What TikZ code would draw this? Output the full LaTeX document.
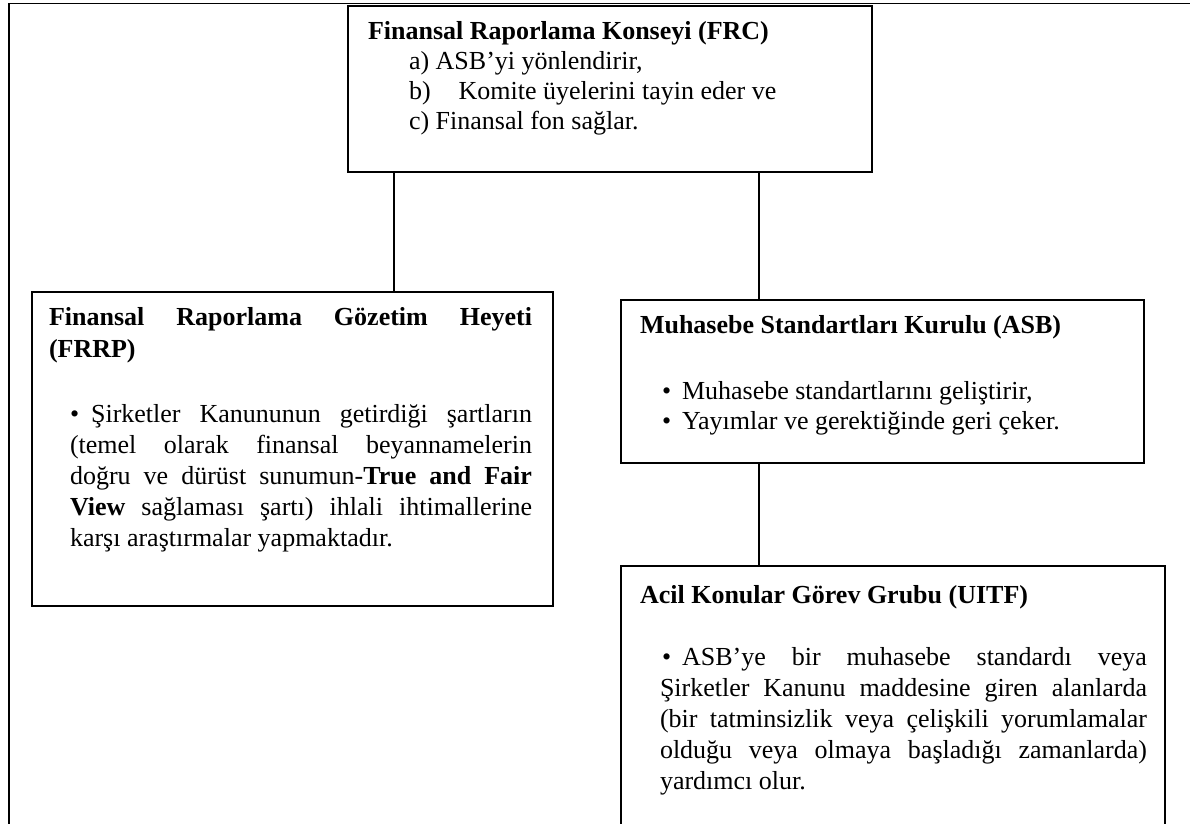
\documentclass[tikz,border=0pt]{standalone}
\usepackage{fontspec}
\setmainfont{Liberation Serif}
\tikzset{
  box/.style={draw=black, line width=2.2pt, inner sep=0pt, outer sep=0pt, anchor=north west},
  conn/.style={draw=black, line width=1.7pt},
  framel/.style={draw=black, line width=1.7pt},
  txt/.style={anchor=base west, inner sep=0pt, outer sep=0pt, align=left},
}
\newcommand{\bfont}[1]{\fontsize{26}{#1}\selectfont}
\begin{document}
\begin{tikzpicture}[x=1pt,y=-1pt]
\useasboundingbox (0,0) rectangle (1190,823);
\clip (0,0) rectangle (1190,823);
\fill[white] (0,0) rectangle (1190,823);
% outer frame
\coordinate (ftr) at (1195,3.5);
\coordinate (ftl) at (9,3.5);
\coordinate (fbl) at (9,830);
\draw[framel] (ftr) -- (ftl) -- (fbl);
% boxes
\node[box, minimum width=524pt, minimum height=166pt] (frc) at (348,6) {};
\node[box, minimum width=521pt, minimum height=314pt] (frrp) at (32,292) {};
\node[box, minimum width=523pt, minimum height=163pt] (asb) at (621,300) {};
\node[box, minimum width=544pt, minimum height=290pt] (uitf) at (621,566) {};
% connectors
\coordinate (cx1) at (394,0);
\coordinate (cx2) at (759,0);
\draw[conn] (cx1 |- frc.south) -- (cx1 |- frrp.north);
\draw[conn] (cx2 |- frc.south) -- (cx2 |- asb.north);
\draw[conn] (cx2 |- asb.south) -- (cx2 |- uitf.north);
% FRC text
\node[txt] (frctitle) at (368,39) {\bfont{30}\bfseries Finansal Raporlama Konseyi (FRC)};
\node[txt] (frcitems) at (409,69) {\parbox[t]{440pt}{\bfont{30}a) ASB’yi yönlendirir,\\
b)\hspace{28pt}Komite üyelerini tayin eder ve\\
c) Finansal fon sağlar.}};
% FRRP text
\node[txt] (frrptitle) at (49,325) {\parbox[t]{483pt}{\bfont{32}\bfseries\makebox[483pt][s]{Finansal Raporlama Gözetim Heyeti}\\
(FRRP)}};
\node[txt] (frrppara) at (70,422) {\parbox[t]{462pt}{\bfont{31}\makebox[462pt][s]{•\hspace{12pt}Şirketler Kanununun getirdiği şartların}\\
\makebox[462pt][s]{(temel olarak finansal beyannamelerin}\\
\makebox[462pt][s]{doğru ve dürüst sunumun-\textbf{True and Fair}}\\
\makebox[462pt][s]{\textbf{View} sağlaması şartı) ihlali ihtimallerine}\\
karşı araştırmalar yapmaktadır.}};
% ASB text
\node[txt] (asbtitle) at (640,333) {\bfont{30}\bfseries Muhasebe Standartları Kurulu (ASB)};
\node[txt] (asbitems) at (662,399) {\parbox[t]{470pt}{\bfont{30}\makebox[20pt][l]{•}Muhasebe standartlarını geliştirir,\\
\makebox[20pt][l]{•}Yayımlar ve gerektiğinde geri çeker.}};
% UITF text
\node[txt] (uitftitle) at (640,603) {\bfont{30}\bfseries Acil Konular Görev Grubu (UITF)};
\node[txt] (uitfpara) at (660,665) {\parbox[t]{487pt}{\bfont{31}\makebox[487pt][s]{\hspace{2pt}•\hspace{11pt}ASB’ye bir muhasebe standardı veya}\\
\makebox[487pt][s]{Şirketler Kanunu maddesine giren alanlarda}\\
\makebox[487pt][s]{(bir tatminsizlik veya çelişkili yorumlamalar}\\
\makebox[487pt][s]{olduğu veya olmaya başladığı zamanlarda)}\\
yardımcı olur.}};
\end{tikzpicture}
\end{document}
